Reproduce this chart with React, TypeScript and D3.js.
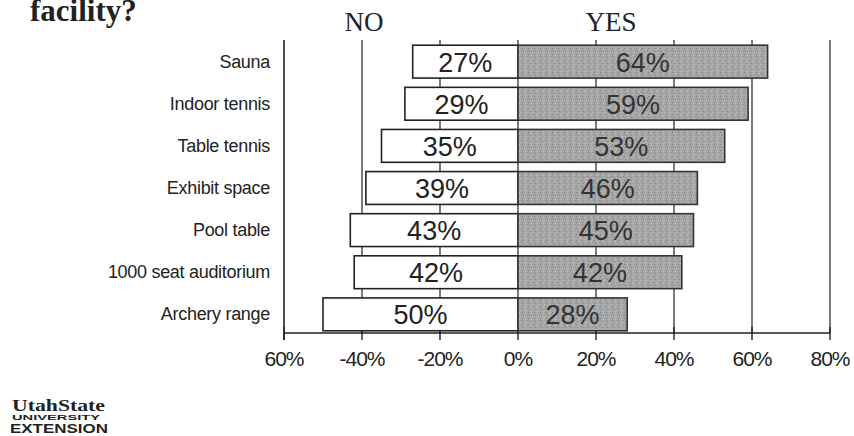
import React from "react";
import * as d3 from "d3";

const categories = [
  "Sauna",
  "Indoor tennis",
  "Table tennis",
  "Exhibit space",
  "Pool table",
  "1000 seat auditorium",
  "Archery range",
];
const noValues = [27, 29, 35, 39, 43, 42, 50];
const yesValues = [64, 59, 53, 46, 45, 42, 28];
const tickValues = [-60, -40, -20, 0, 20, 40, 60, 80];
const tickLabels = ["60%", "-40%", "-20%", "0%", "20%", "40%", "60%", "80%"];

const W = 854;
const H = 436;

export default function App() {
  const x = d3.scaleLinear().domain([-60, 80]).range([284, 830]);
  const y = d3
    .scaleBand<string>()
    .domain(categories)
    .range([41, 335])
    .paddingInner(0.22)
    .paddingOuter(0.1);
  const bw = y.bandwidth();
  const axisY = 333;
  const sans = "'Liberation Sans', Arial, sans-serif";
  const serif = "'Liberation Serif', 'Times New Roman', serif";

  return (
    <svg
      width={W}
      height={H}
      viewBox={`0 0 ${W} ${H}`}
      style={{ position: "absolute", left: 0, top: 0, background: "#fff" }}
    >
      <defs>
        <pattern id="stipple" width="6" height="6" patternUnits="userSpaceOnUse">
          <rect width="6" height="6" fill="#a6a6a6" />
          <rect x="0" y="0" width="1" height="1" fill="#7e7e7e" />
          <rect x="3" y="1" width="1" height="1" fill="#c8c8c8" />
          <rect x="1" y="3" width="1" height="1" fill="#888" />
          <rect x="4" y="4" width="1" height="1" fill="#c0c0c0" />
          <rect x="5" y="2" width="1" height="1" fill="#8c8c8c" />
          <rect x="2" y="5" width="1" height="1" fill="#b8b8b8" />
        </pattern>
      </defs>

      {/* heading fragment */}
      <text x={30} y={21} fontFamily={serif} fontWeight="bold" fontSize={31} fill="#222">
        facility?
      </text>
      <text x={364} y={31} fontFamily={serif} fontSize={27} fill="#222" textAnchor="middle">
        NO
      </text>
      <text x={611} y={31} fontFamily={serif} fontSize={27} fill="#222" textAnchor="middle">
        YES
      </text>

      {/* gridlines */}
      {tickValues.slice(1).map((t) => (
        <line key={"g" + t} x1={x(t)} x2={x(t)} y1={40} y2={axisY} stroke="#333" strokeWidth={1.3} />
      ))}

      {/* axes */}
      <line x1={x(-60)} x2={x(-60)} y1={40} y2={axisY + 7} stroke="#222" strokeWidth={1.6} />
      <line x1={x(-60)} x2={x(80)} y1={axisY} y2={axisY} stroke="#222" strokeWidth={1.6} />
      {tickValues.map((t, i) => (
        <g key={"t" + t}>
          <line x1={x(t)} x2={x(t)} y1={axisY - 6} y2={axisY + 7} stroke="#222" strokeWidth={1.4} />
          <text
            x={x(t)}
            y={axisY + 33}
            fontFamily={sans}
            fontSize={21}
            fill="#222"
            textAnchor="middle"
            letterSpacing={-1}
          >
            {tickLabels[i]}
          </text>
        </g>
      ))}

      {/* bars */}
      {categories.map((c, i) => {
        const top = y(c)!;
        const cy = top + bw / 2;
        const nx = x(-noValues[i]);
        const yx = x(yesValues[i]);
        return (
          <g key={c}>
            <text
              x={270}
              y={cy + 6}
              fontFamily={sans}
              fontSize={18}
              fill="#222"
              textAnchor="end"
              letterSpacing={-0.3}
            >
              {c}
            </text>
            <rect x={nx} y={top} width={x(0) - nx} height={bw} fill="#fff" stroke="#222" strokeWidth={1.6} />
            <rect x={x(0)} y={top} width={yx - x(0)} height={bw} fill="url(#stipple)" stroke="#333" strokeWidth={1.6} />
            <text
              x={(nx + x(0)) / 2}
              y={cy + 10}
              fontFamily={sans}
              fontSize={27}
              fill="#222"
              textAnchor="middle"
            >
              {noValues[i]}%
            </text>
            <text
              x={(yx + x(0)) / 2}
              y={cy + 10}
              fontFamily={sans}
              fontSize={27}
              fill="#333"
              textAnchor="middle"
            >
              {yesValues[i]}%
            </text>
          </g>
        );
      })}

      {/* logo */}
      <text x={12} y={411} fontFamily={serif} fontWeight="bold" fontSize={16} fill="#222" textLength={93} lengthAdjust="spacingAndGlyphs">
        UtahState
      </text>
      <text x={12} y={420} fontFamily={sans} fontWeight="bold" fontSize={7.5} fill="#222" textLength={88} lengthAdjust="spacingAndGlyphs">
        UNIVERSITY
      </text>
      <text x={10} y={433} fontFamily={sans} fontWeight="bold" fontSize={12} fill="#222" textLength={98} lengthAdjust="spacingAndGlyphs">
        EXTENSION
      </text>
    </svg>
  );
}
